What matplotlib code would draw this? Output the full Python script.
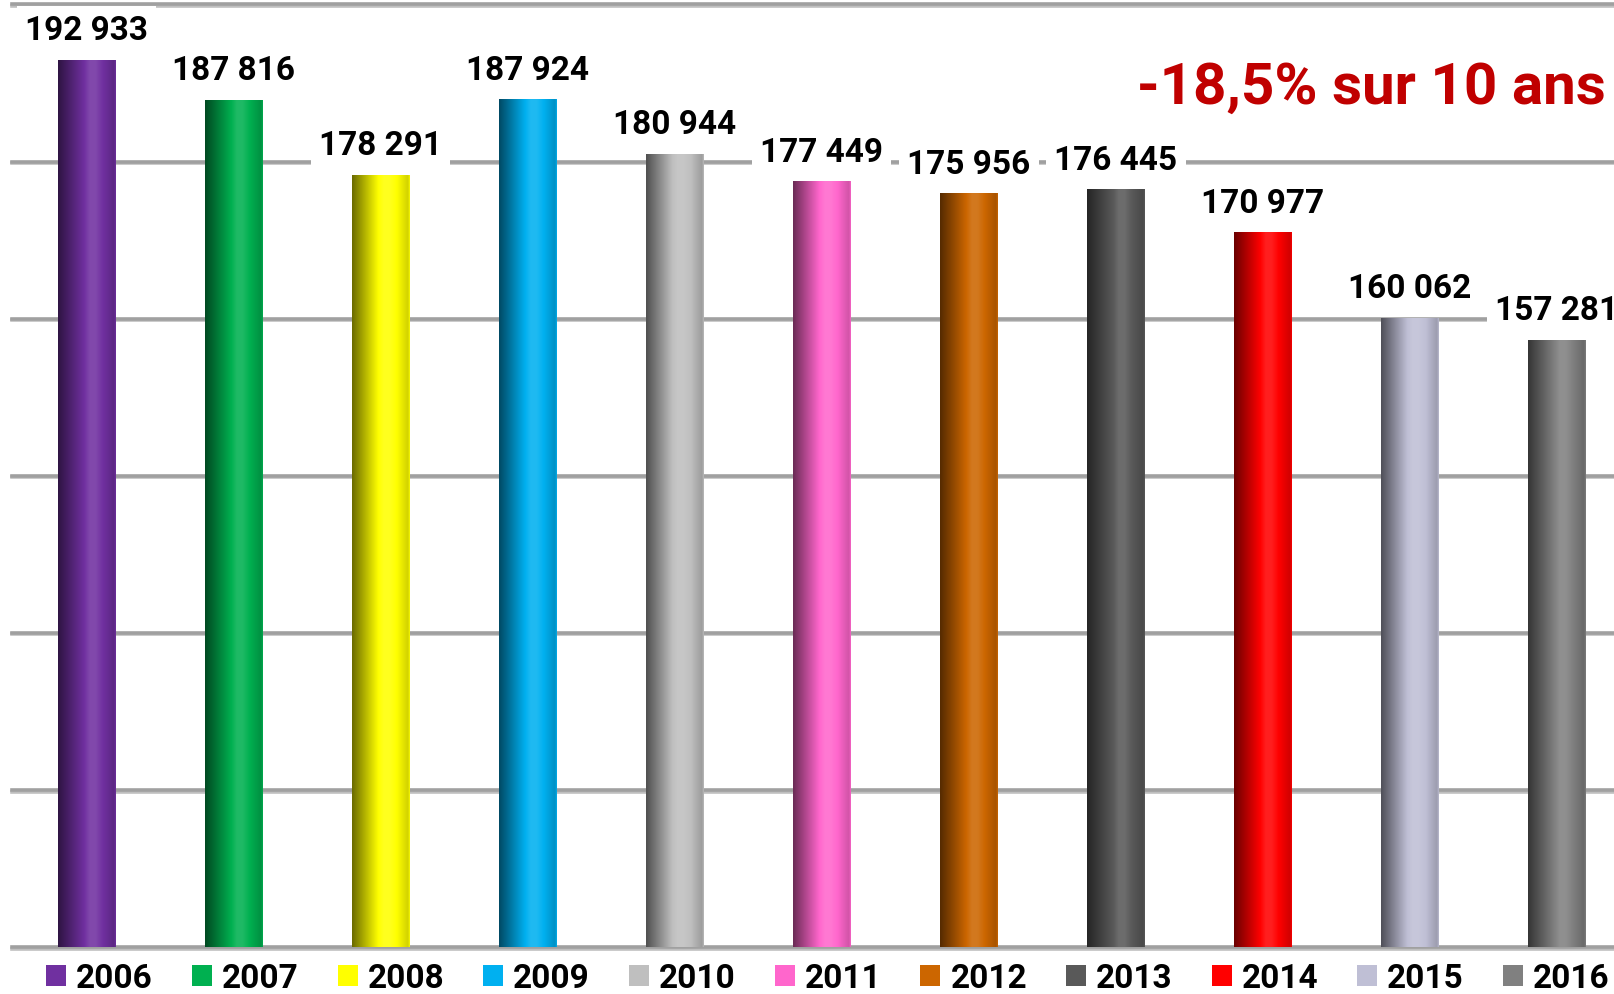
import numpy as np
import matplotlib.pyplot as plt
from matplotlib.colors import to_rgb
from matplotlib.patches import Patch
import matplotlib.patheffects as pe

years = ['2006', '2007', '2008', '2009', '2010', '2011', '2012', '2013', '2014', '2015', '2016']
values = [192933, 187816, 178291, 187924, 180944, 177449, 175956, 176445, 170977, 160062, 157281]
colors = ['#7030A0', '#00B050', '#FFFF00', '#00B0F0', '#BFBFBF', '#FF66CC',
          '#CC6600', '#595959', '#FF0000', '#BFBFD5', '#808080']
grid_levels = [80000, 100000, 120000, 140000, 160000, 180000, 200000]
note = '-18,5% sur 10 ans'

FONT = ['Roboto', 'DejaVu Sans']


def shade(c, n=80):
    # cylinder-like horizontal gradient: dark left, highlight right of centre
    c = np.array(to_rgb(c))
    t = np.linspace(0, 1, n)
    f = np.interp(t, [0, 0.55, 0.65, 0.97, 1], [0.42, 1.12, 1.12, 0.82, 0.95])
    out = np.empty((1, n, 3))
    for i, v in enumerate(f):
        if v <= 1:
            out[0, i] = c * v
        else:
            out[0, i] = c + (1 - c) * (v - 1)
    return np.clip(out, 0, 1)


fig = plt.figure(figsize=(16.14, 9.95), dpi=100)
ax = fig.add_axes([12 / 1614, 47 / 995, 1 - 12 / 1614, 948 / 995])
ax.set_xlim(-0.507, 10.39)
ax.set_ylim(80000, 200700)
ax.axis('off')

for g in grid_levels:
    ax.axhline(g, color='#A0A0A0', lw=2.6, zorder=1, clip_on=False,
               path_effects=[pe.SimpleLineShadow(offset=(0, -1.2), alpha=0.25), pe.Normal()])

x = np.arange(len(years))
bars = ax.bar(x, np.array(values) - 80000, bottom=80000, width=0.39, color=colors, zorder=2)
for b, c in zip(bars, colors):
    b.set_visible(False)
    ax.imshow(shade(c), extent=(b.get_x(), b.get_x() + b.get_width(), 80000, 80000 + b.get_height()),
              aspect='auto', zorder=2, interpolation='bilinear')

for xi, v in zip(x, values):
    ax.annotate(f'{v:,}'.replace(',', ' '), (xi, v), xytext=(0, 15), textcoords='offset points',
                ha='center', va='baseline', fontsize=24, fontweight='bold', family=FONT,
                zorder=3, bbox=dict(boxstyle='square,pad=0.25', fc='white', ec='none'))

fig.text(1606 / 1614, 1 - 88 / 995, note, color='#C00000', fontsize=42, fontweight='bold',
         family=FONT, ha='right', va='center')

handles = [Patch(facecolor=c, edgecolor='none') for c in colors]
leg = fig.legend(handles, years, loc='center left', bbox_to_anchor=(46 / 1614, 1 - 979 / 995),
                 ncol=len(years), frameon=False, handlelength=0.6, handleheight=0.6,
                 handletextpad=0.3, columnspacing=1.17, borderpad=0, borderaxespad=0,
                 prop=dict(family=FONT, weight='bold', size=24))

fig.savefig('out.png', dpi=100)
